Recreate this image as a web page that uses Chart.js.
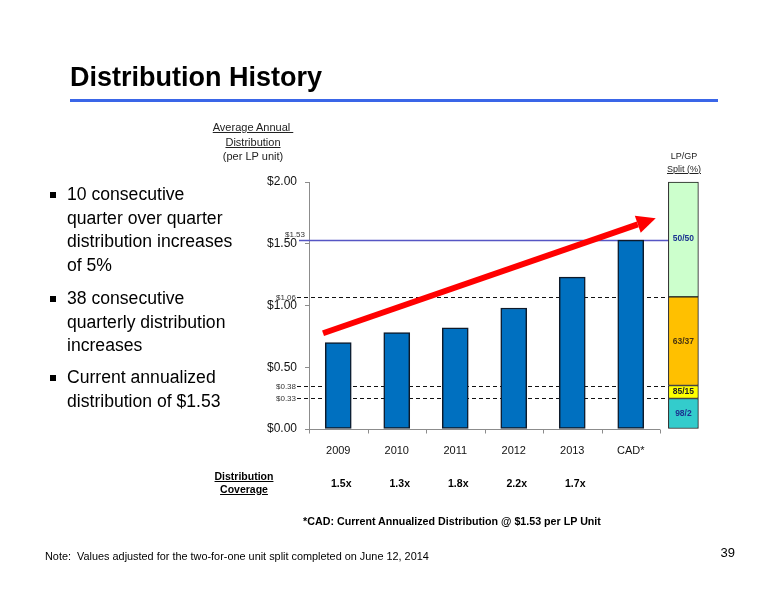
<!DOCTYPE html>
<html>
<head>
<meta charset="utf-8">
<script src="https://cdn.jsdelivr.net/npm/chart.js@4.4.1/dist/chart.umd.min.js"></script>
<style>
  html, body { margin: 0; padding: 0; background: #fff; }
  body { width: 776px; height: 600px; position: relative; overflow: hidden;
         font-family: 'Liberation Sans', Arial, sans-serif; color: #000; }
  #chart { position: absolute; left: 0; top: 0; }
  .abs { position: absolute; white-space: nowrap; }
  .title { left: 70px; top: 64px; font-size: 27px; line-height: 27px; font-weight: bold; }
  .rule { left: 70px; top: 99px; width: 648px; height: 3px; background: #3a66e8; }
  .bullet { left: 67px; font-size: 17.6px; line-height: 23.7px; }
  .bullet::before { content: ''; position: absolute; left: -17px; top: 9px; width: 6px; height: 6px; background: #000; }
  .ytitle { left: 193px; top: 120px; width: 120px; text-align: center; font-size: 11px; line-height: 14.5px; color: #222; }
  .split { left: 654px; top: 150px; width: 60px; text-align: center; font-size: 9px; line-height: 12.6px; color: #222; }
  .cov { left: 194px; top: 470px; width: 100px; text-align: center; font-size: 10.5px; line-height: 12.6px; font-weight: bold; text-decoration: underline; }
  .foot { left: 252px; top: 515px; width: 400px; text-align: center; font-size: 10.7px; line-height: 13px; font-weight: bold; }
  .note { left: 45px; top: 549px; font-size: 11.5px; line-height: 14px; transform: scaleX(0.946); transform-origin: 0 0; }
  .page { left: 705px; top: 546px; width: 30px; text-align: right; font-size: 13px; line-height: 14px; }
  u { text-decoration: underline; }
</style>
</head>
<body>
<canvas id="chart" width="776" height="600"></canvas>

<div class="abs title">Distribution History</div>
<div class="abs rule"></div>

<div class="abs bullet" style="top:183px">10 consecutive<br>quarter over quarter<br>distribution increases<br>of 5%</div>
<div class="abs bullet" style="top:287px">38 consecutive<br>quarterly distribution<br>increases</div>
<div class="abs bullet" style="top:366px">Current annualized<br>distribution of $1.53</div>

<div class="abs ytitle"><u>Average Annual&nbsp;</u><br><u>Distribution</u><br>(per LP unit)</div>
<div class="abs split">LP/GP<br><u>Split (%)</u></div>

<div class="abs cov">Distribution<br>Coverage</div>
<div class="abs foot">*CAD: Current Annualized Distribution @ $1.53 per LP Unit</div>
<div class="abs note">Note:&nbsp; Values adjusted for the two-for-one unit split completed on June 12, 2014</div>
<div class="abs page">39</div>

<script>
// values
const categories = ['2009', '2010', '2011', '2012', '2013', 'CAD*'];
const distributions = [0.70, 0.78, 0.82, 0.98, 1.23, 1.53];
const coverage = ['1.5x', '1.3x', '1.8x', '2.2x', '1.7x'];
const yTicks = [0, 0.5, 1.0, 1.5, 2.0];

// IDR tiers: label and where the line sits on the slide
const tierLabels = ['$0.33', '$0.38', '$1.06', '$1.53'];
const tierLevels = [0.247, 0.352, 1.07, 1.53];

// LP/GP split bar, bottom to top
const splitLabels = ['98/2', '85/15', '63/37', '50/50'];
const splitBands = [[0, 0.247], [0.247, 0.352], [0.352, 1.07], [1.07, 2.0]];
const splitColors = ['#33cccc', '#ffff00', '#ffc000', '#ccffcc'];
const splitTextColors = ['#1c3390', '#222222', '#4a3510', '#1c3390'];
const splitSlot = 5.9;

// red trend arrow (tail, head base)
const trendLine = [{ x: -0.26, y: 0.775 }, { x: 5.12, y: 1.657 }];

const FONT = '"Liberation Sans", Arial, sans-serif';

const slideAnnotations = {
    id: 'slideAnnotations',
    beforeDatasetsDraw(chart) {
        const { ctx, chartArea, scales: { x, y } } = chart;
        const splitEl = chart.getDatasetMeta(1).data[0];
        const splitLeft = splitEl.x - splitEl.width / 2;

        ctx.save();
        // category axis only under the six years
        ctx.strokeStyle = '#8c8c8c';
        ctx.lineWidth = 1;
        ctx.beginPath();
        const bottom = Math.round(chartArea.bottom) + 0.5;
        ctx.moveTo(x.getPixelForValue(-0.5), bottom);
        ctx.lineTo(x.getPixelForValue(categories.length - 0.5), bottom);
        for (let i = 0; i <= categories.length; i++) {
            const px = Math.round(x.getPixelForValue(i - 0.5)) + 0.5;
            ctx.moveTo(px, bottom);
            ctx.lineTo(px, bottom + 4);
        }
        ctx.stroke();

        // tier lines
        tierLevels.forEach((lvl, i) => {
            const py = Math.round(y.getPixelForValue(lvl)) + 0.5;
            const isCurrent = i === tierLevels.length - 1;
            const start = chartArea.left - (isCurrent ? 10 : 12);
            ctx.beginPath();
            ctx.setLineDash(isCurrent ? [] : [4, 3]);
            ctx.strokeStyle = isCurrent ? '#5656c4' : '#111';
            ctx.lineWidth = isCurrent ? 1.3 : 1;
            ctx.moveTo(start, py);
            ctx.lineTo(splitLeft, py);
            ctx.stroke();
            ctx.setLineDash([]);

            ctx.fillStyle = '#333';
            ctx.font = '8px ' + FONT;
            ctx.textAlign = 'right';
            if (isCurrent) {
                ctx.textBaseline = 'bottom';
                ctx.fillText(tierLabels[i], chartArea.left - 4, py - 2);
            } else {
                ctx.textBaseline = 'middle';
                ctx.fillText(tierLabels[i], start - 1, py);
            }
        });
        ctx.restore();
    },
    afterDatasetsDraw(chart) {
        const { ctx, chartArea, scales: { x, y } } = chart;
        ctx.save();

        // split labels; the top one sits level with the current distribution
        ctx.font = 'bold 8.5px ' + FONT;
        ctx.textAlign = 'center';
        ctx.textBaseline = 'middle';
        splitLabels.forEach((lbl, i) => {
            const el = chart.getDatasetMeta(i + 1).data[0];
            ctx.fillStyle = splitTextColors[i];
            const cy = i === splitLabels.length - 1
                ? y.getPixelForValue(tierLevels[tierLevels.length - 1]) - 1
                : (el.y + el.base) / 2;
            ctx.fillText(lbl, el.x, cy);
        });

        // arrow head
        const pts = chart.getDatasetMeta(splitLabels.length + 1).data;
        const p0 = pts[0], p1 = pts[1];
        const ang = Math.atan2(p1.y - p0.y, p1.x - p0.x);
        ctx.save();
        ctx.translate(p1.x, p1.y);
        ctx.rotate(ang);
        ctx.fillStyle = '#ff0000';
        ctx.beginPath();
        ctx.moveTo(19, 0);
        ctx.lineTo(0, -9);
        ctx.lineTo(0, 9);
        ctx.closePath();
        ctx.fill();
        ctx.restore();

        // coverage row
        ctx.fillStyle = '#000';
        ctx.font = 'bold 10.5px ' + FONT;
        coverage.forEach((c, i) => {
            ctx.fillText(c, x.getPixelForValue(i) + 3, chartArea.bottom + 55);
        });
        ctx.restore();
    }
};

const datasets = [{
    type: 'bar',
    data: distributions.map((v, i) => ({ x: i, y: v })),
    backgroundColor: '#0070c0',
    borderColor: '#0e1a2a',
    borderWidth: 1.5,
    borderSkipped: false,
    barThickness: 26,
    order: 2
}];
splitBands.forEach((band, i) => {
    datasets.push({
        type: 'bar',
        data: [{ x: splitSlot, y: band }],
        backgroundColor: splitColors[i],
        borderColor: '#1a1a1a',
        borderWidth: 1,
        borderSkipped: false,
        barThickness: 30,
        clip: false,
        order: 2
    });
});
datasets.push({
    type: 'line',
    data: trendLine,
    borderColor: '#ff0000',
    borderWidth: 6,
    borderCapStyle: 'butt',
    pointRadius: 0,
    order: 0
});

new Chart(document.getElementById('chart'), {
    type: 'bar',
    data: { datasets },
    options: {
        responsive: false,
        animation: false,
        layout: { padding: { left: 249, right: 57.5, top: 182, bottom: 141 } },
        plugins: { legend: { display: false }, tooltip: { enabled: false } },
        scales: {
            x: {
                type: 'linear',
                min: -0.5,
                max: 6.5,
                offset: false,
                stacked: true,
                afterBuildTicks: scale => { scale.ticks = categories.map((c, i) => ({ value: i })); },
                afterFit: scale => { scale.height = 30; },
                grid: { display: false },
                border: { display: false },
                ticks: {
                    padding: 7,
                    color: '#111',
                    font: { family: FONT, size: 11 },
                    callback: v => categories[v]
                }
            },
            y: {
                min: 0,
                max: 2,
                stacked: false,
                afterBuildTicks: scale => { scale.ticks = yTicks.map(v => ({ value: v })); },
                afterFit: scale => { scale.width = 60; },
                grid: { drawOnChartArea: false, tickLength: 4, color: '#8c8c8c' },
                border: { color: '#8c8c8c' },
                ticks: {
                    padding: 8,
                    color: '#111',
                    font: { family: FONT, size: 12 },
                    callback: v => '$' + v.toFixed(2)
                }
            }
        }
    },
    plugins: [slideAnnotations]
});
</script>
</body>
</html>
